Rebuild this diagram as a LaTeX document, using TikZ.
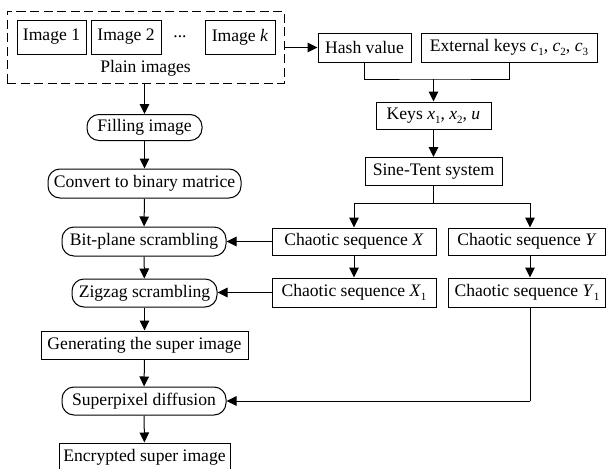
\documentclass[tikz,border=0pt]{standalone}
\usepackage{fontspec}
\setmainfont{Liberation Serif}
\usetikzlibrary{arrows.meta,calc}
% small lowered index for variable names
\newcommand{\idx}[1]{\lower0.5ex\hbox{\fontsize{11}{11}\selectfont #1}}
\tikzset{
  box/.style={draw, line width=1pt, inner sep=0pt, align=center},
  roundbox/.style={box, rounded corners=12pt},
  flow/.style={line width=1pt, -{Triangle[length=10pt,width=9.5pt]}},
  link/.style={line width=1pt},
}
\begin{document}
\begin{tikzpicture}[x=1pt, y=-1pt, font=\fontsize{17.6}{20}\selectfont]
\useasboundingbox (0,0) rectangle (606,469);

% plain images group
\node[draw, line width=1pt, dash pattern=on 9pt off 4.5pt, minimum width=277pt, minimum height=72pt, inner sep=0pt] (plain) at (145.5,47) {};
\node[box, minimum width=69pt, minimum height=34pt] (im1) at (51.5,37) {Image 1};
\node[box, minimum width=70pt, minimum height=34pt] (im2) at (126,37) {Image 2};
\node (dots) at (180,37) {...};
\node[box, minimum width=70pt, minimum height=34pt] (imk) at (240,37) {Image \textit{k}};
\node (plainlbl) at (145.5,68) {Plain images};

% left processing column
\node[roundbox, minimum width=115pt, minimum height=26pt] (fill) at (144.5,127.5) {Filling image};
\node[roundbox, minimum width=193pt, minimum height=29pt] (conv) at (144.5,183.5) {Convert to binary matrice};
\node[roundbox, minimum width=164pt, minimum height=29pt] (bit) at (144,241.5) {Bit-plane scrambling};
\node[roundbox, minimum width=145pt, minimum height=28pt] (zig) at (144.5,293) {Zigzag scrambling};
\node[box, minimum width=207pt, minimum height=28pt] (gen) at (144.5,345) {Generating the super image};
\node[roundbox, minimum width=164pt, minimum height=28pt] (sup) at (144,401) {Superpixel diffusion};
\node[box, minimum width=171pt, minimum height=28pt] (enc) at (144.5,457) {Encrypted super image};

% key generation column
\node[box, minimum width=93pt, minimum height=29pt] (hash) at (364.5,47.5) {Hash value};
\node[box, minimum width=176pt, minimum height=29pt] (ext) at (509,47.5) {External keys \textit{c}\idx{1}, \textit{c}\idx{2}, \textit{c}\idx{3}};
\node[box, minimum width=115pt, minimum height=27pt] (keys) at (433.5,115.5) {Keys \textit{x}\idx{1}, \textit{x}\idx{2}, \textit{u}};
\node[box, minimum width=137pt, minimum height=28pt] (sine) at (433.5,171.5) {Sine-Tent system};
\node[box, minimum width=164pt, minimum height=27pt] (cx) at (354,241.5) {Chaotic sequence \textit{X}};
\node[box, minimum width=157pt, minimum height=27pt] (cy) at (527,241.5) {Chaotic sequence \textit{Y}};
\node[box, minimum width=164pt, minimum height=29pt] (cx1) at (354,292.5) {Chaotic sequence \textit{X}\idx{1}};
\node[box, minimum width=157pt, minimum height=29pt] (cy1) at (527,292.5) {Chaotic sequence \textit{Y}\idx{1}};

% junction points
\coordinate (jkeys) at (433.5,79);
\coordinate (jsplit) at (433.5,203);
\coordinate (jl) at (354,203);
\coordinate (jr) at (530,203);
\coordinate (jsup) at (530,401);

% left column flow
\draw[flow] (plain.south -| fill) -- (fill);
\draw[flow] (fill) -- (conv);
\draw[flow] (conv) -- (bit);
\draw[flow] (bit) -- (zig);
\draw[flow] (zig) -- (gen);
\draw[flow] (gen) -- (sup);
\draw[flow] (sup) -- (enc);

% plain images to hash
\draw[flow] (plain.east |- hash) -- (hash);

% hash and external keys merge into keys
\draw[link] (hash.south) |- (jkeys) -| (ext.south);
\draw[flow] (jkeys) -- (keys);
\draw[flow] (keys) -- (sine);

% split of the chaotic system output
\draw[link] (sine.south) -- (jsplit);
\draw[link] (jl) -- (jr);
\draw[flow] (jl) -- (cx.north -| jl);
\draw[flow] (jr) -- (cy.north -| jr);
\draw[flow] (cx.south -| jl) -- (cx1.north -| jl);
\draw[flow] (cy.south -| jr) -- (cy1.north -| jr);

% sequences feed the scrambling and diffusion steps
\draw[flow] (cx.west) -- (cx.west -| bit.east);
\draw[flow] (cx1.west) -- (cx1.west -| zig.east);
\draw[link] (cy1.south -| jr) -- (jsup);
\draw[flow] (jsup) -- (jsup -| sup.east);
\end{tikzpicture}
\end{document}
